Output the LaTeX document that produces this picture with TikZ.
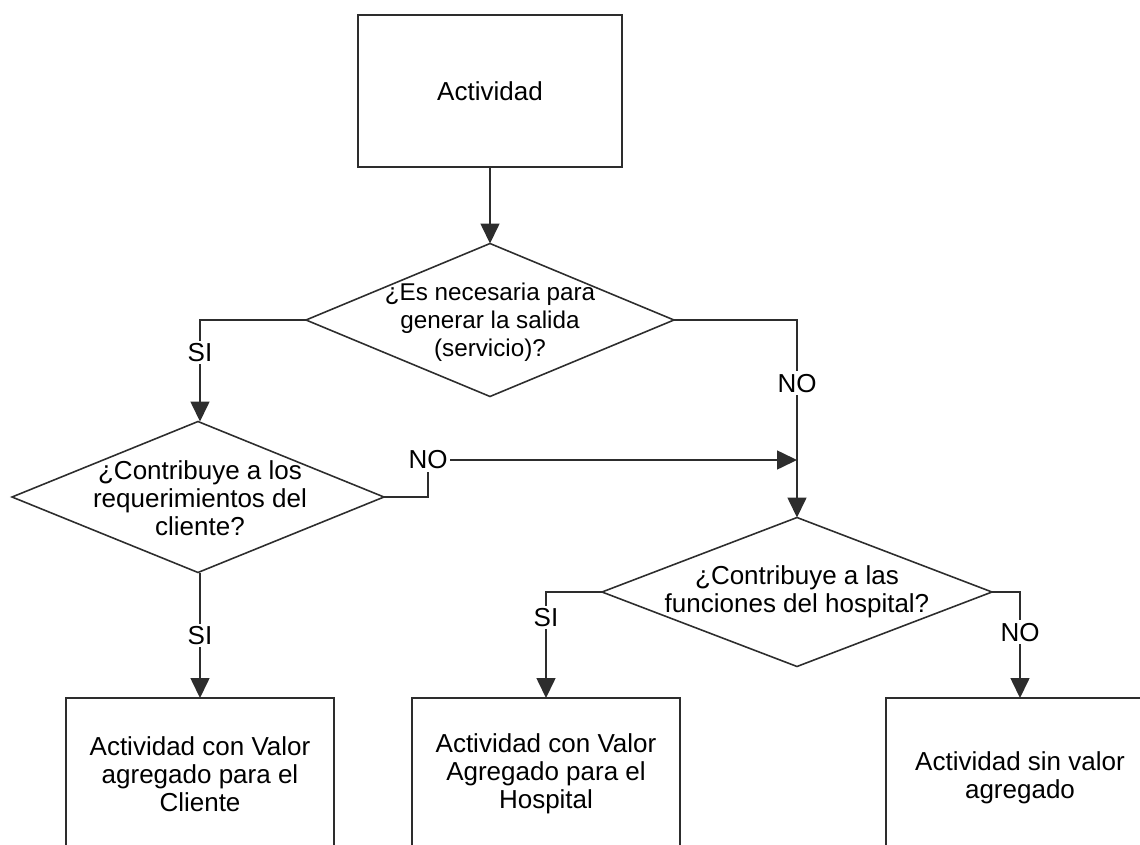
\documentclass[tikz,border=0pt]{standalone}
\usepackage{fontspec}
\setmainfont{Liberation Sans}
\usetikzlibrary{
    arrows.meta,
    shapes.geometric,
    positioning
}
\definecolor{flowgray}{RGB}{45,45,45}
\newcommand{\flowfont}{\fontsize{14.8}{15.9}\selectfont}
\newcommand{\smallflowfont}{\fontsize{13.8}{15.9}\selectfont}
\tikzset{
    % Box styles
    activity box/.style={
        draw=flowgray,
        line width=1pt,
        rectangle,
        minimum width=5.36cm,
        minimum height=3.04cm,
        outer sep=0pt,
        align=center,
        font=\flowfont
    },
    decision/.style={
        draw=flowgray,
        line width=0.9pt,
        diamond,
        inner sep=0pt,
        outer sep=0pt
    },
    decision text/.style={
        align=center,
        font=\flowfont
    },
    % Arrow styles
    flow arrow/.style={
        -{Triangle[length=0.4cm,width=0.38cm]},
        line width=0.9pt,
        flowgray
    },
    branch label/.style={
        fill=white,
        inner sep=1.5pt,
        text=black,
        font=\flowfont
    }
}

\begin{document}
\begin{tikzpicture}[x=0.02cm, y=-0.02cm]
    \useasboundingbox (0,0) rectangle (1140,845);
    \clip (0,0) rectangle (1140,845);

    \node[activity box, minimum width=5.28cm] (act) at (490,91) {Actividad};

    \node[decision, minimum width=7.36cm, minimum height=3.06cm] (d1) at (490,320) {};
    \node[decision text, font=\smallflowfont] (d1 text) at (490,322) {¿Es necesaria para\\generar la salida\\(servicio)?};

    \node[decision, minimum width=7.44cm, minimum height=3.02cm] (d2) at (198,497) {};
    \node[decision text] (d2 text) at (200,498) {¿Contribuye a los\\requerimientos del\\cliente?};

    \node[decision, minimum width=7.8cm, minimum height=2.98cm] (d3) at (797,592) {};
    \node[decision text] (d3 text) at (d3) {¿Contribuye a las\\funciones del hospital?};

    \node[activity box] (b1) at (200,774) {Actividad con Valor\\agregado para el\\Cliente};
    \node[activity box] (b2) at (546,774) {Actividad con Valor\\Agregado para el\\Hospital};
    \node[activity box] (b3) at (1020,774) {};
    \node[decision text] (b3 text) at (1020,778) {Actividad sin valor\\agregado};

    \coordinate (nobend) at (428,460);
    \coordinate (merge) at (797,460);

    \draw[flow arrow] (act.south) -- (d1.north);
    \draw[flow arrow] (d1.west) -| node[branch label, pos=0.66] {SI} (d2.north -| 200,0);
    \draw[flow arrow] (d1.east) -| node[branch label, pos=0.66] {NO} (d3.north);
    \draw[flow arrow] (d2.east) -| (nobend) node[branch label] {NO} -- (merge);
    \draw[flow arrow] (200,573) -- node[branch label] {SI} (b1.north);
    \draw[flow arrow] (d3.west) -| node[branch label, pos=0.62] {SI} (b2.north);
    \draw[flow arrow] (d3.east) -| node[branch label, pos=0.69] {NO} (b3.north);
\end{tikzpicture}
\end{document}
